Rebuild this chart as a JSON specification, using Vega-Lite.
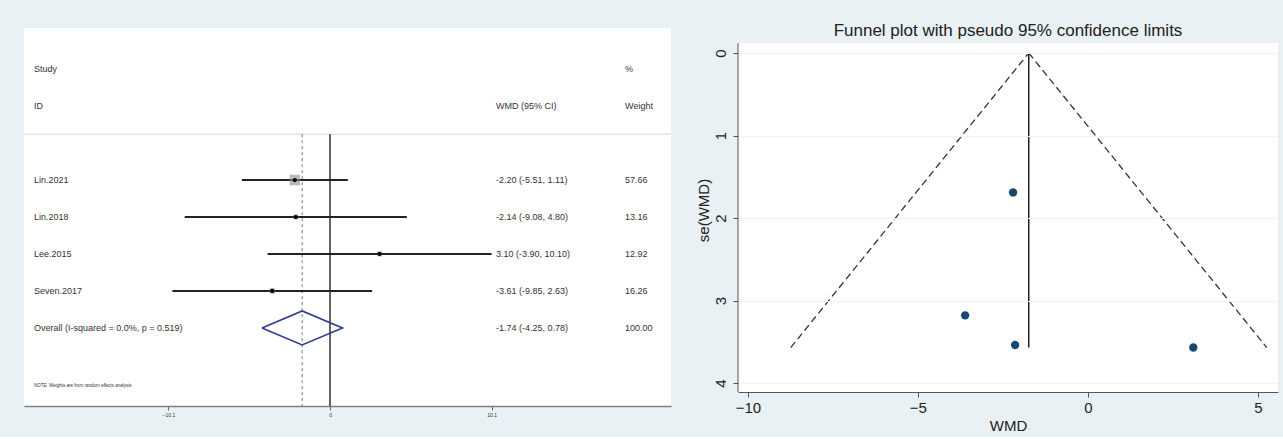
{
  "$schema": "https://vega.github.io/schema/vega-lite/v6.json",
  "background": "#e9f1f4",
  "padding": {"left": 23, "top": 22, "right": 6, "bottom": 4},
  "spacing": 67,
  "bounds": "flush",
  "config": {"font": "Liberation Sans", "view": {"stroke": null}},
  "datasets": {
    "studies": [
      {"study": "Lin.2021", "row": 1, "wmd": -2.20, "lo": -5.51, "hi": 1.11, "weight": 57.66, "se": 1.69},
      {"study": "Lin.2018", "row": 2, "wmd": -2.14, "lo": -9.08, "hi": 4.80, "weight": 13.16, "se": 3.54},
      {"study": "Lee.2015", "row": 3, "wmd": 3.10, "lo": -3.90, "hi": 10.10, "weight": 12.92, "se": 3.57},
      {"study": "Seven.2017", "row": 4, "wmd": -3.61, "lo": -9.85, "hi": 2.63, "weight": 16.26, "se": 3.18}
    ],
    "labels": [
      {"row": -2, "c1": "Study", "c2": "", "c3": "%"},
      {"row": -1, "c1": "ID", "c2": "WMD (95% CI)", "c3": "Weight"},
      {"row": 1, "c1": "Lin.2021", "c2": "-2.20 (-5.51, 1.11)", "c3": "57.66"},
      {"row": 2, "c1": "Lin.2018", "c2": "-2.14 (-9.08, 4.80)", "c3": "13.16"},
      {"row": 3, "c1": "Lee.2015", "c2": "3.10 (-3.90, 10.10)", "c3": "12.92"},
      {"row": 4, "c1": "Seven.2017", "c2": "-3.61 (-9.85, 2.63)", "c3": "16.26"},
      {"row": 5, "c1": "Overall  (I-squared = 0.0%, p = 0.519)", "c2": "-1.74 (-4.25, 0.78)", "c3": "100.00"}
    ],
    "note": [{"row": 6.57, "text": "NOTE: Weights are from random effects analysis"}],
    "diamond": [
      {"ord": 1, "wmd": -4.25, "row": 5},
      {"ord": 2, "wmd": -1.74, "row": 4.54},
      {"ord": 3, "wmd": 0.78, "row": 5},
      {"ord": 4, "wmd": -1.74, "row": 5.46},
      {"ord": 5, "wmd": -4.25, "row": 5}
    ],
    "pooled": [{"effect": -1.74, "se0": 0, "se1": 3.571}],
    "funnel": [
      {"side": "L", "x": -8.74, "se": 3.571},
      {"side": "L", "x": -1.74, "se": 0},
      {"side": "R", "x": -1.74, "se": 0},
      {"side": "R", "x": 5.26, "se": 3.571}
    ]
  },
  "hconcat": [
    {
      "width": 647,
      "height": 378,
      "view": {"fill": "white", "stroke": null},
      "layer": [
        {
          "data": {"name": "pooled"},
          "mark": {"type": "rule", "color": "#cfd4d8", "strokeWidth": 1},
          "encoding": {
            "y": {"datum": -0.24, "type": "quantitative", "scale": {"domain": [-3.11, 7.11], "nice": false, "zero": false, "reverse": true}, "axis": null}
          }
        },
        {
          "data": {"name": "pooled"},
          "mark": {"type": "rule", "color": "#777777", "strokeWidth": 1, "strokeDash": [3, 3]},
          "encoding": {
            "x": {"field": "effect", "type": "quantitative", "scale": {"domain": [-19.125, 21.31], "nice": false, "zero": false}, "axis": {"values": [-10.1, 0, 10.1], "labelExpr": "datum.value == 0 ? '0' : format(datum.value, '.1f')", "title": null, "grid": false, "labelFontSize": 5, "labelColor": "#333333", "tickSize": 4, "tickColor": "#666666", "domainColor": "#808080", "domainWidth": 1.5, "labelPadding": 2}},
            "y": {"datum": -0.24, "type": "quantitative", "scale": {"domain": [-3.11, 7.11], "nice": false, "zero": false, "reverse": true}, "axis": null},
            "y2": {"datum": 7.11}
          }
        },
        {
          "data": {"name": "pooled"},
          "mark": {"type": "rule", "color": "#111111", "strokeWidth": 1.3},
          "encoding": {
            "x": {"datum": 0, "type": "quantitative", "scale": {"domain": [-19.125, 21.31], "nice": false, "zero": false}, "axis": {"values": [-10.1, 0, 10.1], "labelExpr": "datum.value == 0 ? '0' : format(datum.value, '.1f')", "title": null, "grid": false, "labelFontSize": 5, "labelColor": "#333333", "tickSize": 4, "tickColor": "#666666", "domainColor": "#808080", "domainWidth": 1.5, "labelPadding": 2}},
            "y": {"datum": -0.24, "type": "quantitative", "scale": {"domain": [-3.11, 7.11], "nice": false, "zero": false, "reverse": true}, "axis": null},
            "y2": {"datum": 7.11}
          }
        },
        {
          "data": {"name": "studies"},
          "mark": {"type": "rule", "color": "#222222", "strokeWidth": 1.9},
          "encoding": {
            "x": {"field": "lo", "type": "quantitative", "scale": {"domain": [-19.125, 21.31], "nice": false, "zero": false}, "axis": {"values": [-10.1, 0, 10.1], "labelExpr": "datum.value == 0 ? '0' : format(datum.value, '.1f')", "title": null, "grid": false, "labelFontSize": 5, "labelColor": "#333333", "tickSize": 4, "tickColor": "#666666", "domainColor": "#808080", "domainWidth": 1.5, "labelPadding": 2}},
            "x2": {"field": "hi"},
            "y": {"field": "row", "type": "quantitative", "scale": {"domain": [-3.11, 7.11], "nice": false, "zero": false, "reverse": true}, "axis": null}
          }
        },
        {
          "data": {"name": "studies"},
          "mark": {"type": "point", "shape": "square", "filled": true, "color": "#8c8c8c", "opacity": 0.6},
          "encoding": {
            "x": {"field": "wmd", "type": "quantitative", "scale": {"domain": [-19.125, 21.31], "nice": false, "zero": false}, "axis": {"values": [-10.1, 0, 10.1], "labelExpr": "datum.value == 0 ? '0' : format(datum.value, '.1f')", "title": null, "grid": false, "labelFontSize": 5, "labelColor": "#333333", "tickSize": 4, "tickColor": "#666666", "domainColor": "#808080", "domainWidth": 1.5, "labelPadding": 2}},
            "y": {"field": "row", "type": "quantitative", "scale": {"domain": [-3.11, 7.11], "nice": false, "zero": false, "reverse": true}, "axis": null},
            "size": {"field": "weight", "type": "quantitative", "scale": {"domain": [0, 60], "range": [0, 115]}, "legend": null}
          }
        },
        {
          "data": {"name": "studies"},
          "mark": {"type": "point", "shape": "circle", "filled": true, "color": "#000000", "size": 18, "opacity": 1},
          "encoding": {
            "x": {"field": "wmd", "type": "quantitative", "scale": {"domain": [-19.125, 21.31], "nice": false, "zero": false}, "axis": {"values": [-10.1, 0, 10.1], "labelExpr": "datum.value == 0 ? '0' : format(datum.value, '.1f')", "title": null, "grid": false, "labelFontSize": 5, "labelColor": "#333333", "tickSize": 4, "tickColor": "#666666", "domainColor": "#808080", "domainWidth": 1.5, "labelPadding": 2}},
            "y": {"field": "row", "type": "quantitative", "scale": {"domain": [-3.11, 7.11], "nice": false, "zero": false, "reverse": true}, "axis": null}
          }
        },
        {
          "data": {"name": "diamond"},
          "mark": {"type": "line", "color": "#2f3c8f", "strokeWidth": 1.6},
          "encoding": {
            "x": {"field": "wmd", "type": "quantitative", "scale": {"domain": [-19.125, 21.31], "nice": false, "zero": false}, "axis": {"values": [-10.1, 0, 10.1], "labelExpr": "datum.value == 0 ? '0' : format(datum.value, '.1f')", "title": null, "grid": false, "labelFontSize": 5, "labelColor": "#333333", "tickSize": 4, "tickColor": "#666666", "domainColor": "#808080", "domainWidth": 1.5, "labelPadding": 2}},
            "y": {"field": "row", "type": "quantitative", "scale": {"domain": [-3.11, 7.11], "nice": false, "zero": false, "reverse": true}, "axis": null},
            "order": {"field": "ord", "type": "quantitative"}
          }
        },
        {
          "data": {"name": "labels"},
          "mark": {"type": "text", "align": "left", "baseline": "middle", "fontSize": 9, "color": "#333333"},
          "encoding": {
            "x": {"datum": -18.5, "type": "quantitative", "scale": {"domain": [-19.125, 21.31], "nice": false, "zero": false}, "axis": {"values": [-10.1, 0, 10.1], "labelExpr": "datum.value == 0 ? '0' : format(datum.value, '.1f')", "title": null, "grid": false, "labelFontSize": 5, "labelColor": "#333333", "tickSize": 4, "tickColor": "#666666", "domainColor": "#808080", "domainWidth": 1.5, "labelPadding": 2}},
            "y": {"field": "row", "type": "quantitative", "scale": {"domain": [-3.11, 7.11], "nice": false, "zero": false, "reverse": true}, "axis": null},
            "text": {"field": "c1"}
          }
        },
        {
          "data": {"name": "labels"},
          "mark": {"type": "text", "align": "left", "baseline": "middle", "fontSize": 9, "color": "#333333"},
          "encoding": {
            "x": {"datum": 10.375, "type": "quantitative", "scale": {"domain": [-19.125, 21.31], "nice": false, "zero": false}, "axis": {"values": [-10.1, 0, 10.1], "labelExpr": "datum.value == 0 ? '0' : format(datum.value, '.1f')", "title": null, "grid": false, "labelFontSize": 5, "labelColor": "#333333", "tickSize": 4, "tickColor": "#666666", "domainColor": "#808080", "domainWidth": 1.5, "labelPadding": 2}},
            "y": {"field": "row", "type": "quantitative", "scale": {"domain": [-3.11, 7.11], "nice": false, "zero": false, "reverse": true}, "axis": null},
            "text": {"field": "c2"}
          }
        },
        {
          "data": {"name": "labels"},
          "mark": {"type": "text", "align": "left", "baseline": "middle", "fontSize": 9, "color": "#333333"},
          "encoding": {
            "x": {"datum": 18.44, "type": "quantitative", "scale": {"domain": [-19.125, 21.31], "nice": false, "zero": false}, "axis": {"values": [-10.1, 0, 10.1], "labelExpr": "datum.value == 0 ? '0' : format(datum.value, '.1f')", "title": null, "grid": false, "labelFontSize": 5, "labelColor": "#333333", "tickSize": 4, "tickColor": "#666666", "domainColor": "#808080", "domainWidth": 1.5, "labelPadding": 2}},
            "y": {"field": "row", "type": "quantitative", "scale": {"domain": [-3.11, 7.11], "nice": false, "zero": false, "reverse": true}, "axis": null},
            "text": {"field": "c3"}
          }
        },
        {
          "data": {"name": "note"},
          "mark": {"type": "text", "align": "left", "baseline": "middle", "fontSize": 4.5, "color": "#333333"},
          "encoding": {
            "x": {"datum": -18.5, "type": "quantitative", "scale": {"domain": [-19.125, 21.31], "nice": false, "zero": false}, "axis": {"values": [-10.1, 0, 10.1], "labelExpr": "datum.value == 0 ? '0' : format(datum.value, '.1f')", "title": null, "grid": false, "labelFontSize": 5, "labelColor": "#333333", "tickSize": 4, "tickColor": "#666666", "domainColor": "#808080", "domainWidth": 1.5, "labelPadding": 2}},
            "y": {"field": "row", "type": "quantitative", "scale": {"domain": [-3.11, 7.11], "nice": false, "zero": false, "reverse": true}, "axis": null},
            "text": {"field": "text"}
          }
        }
      ]
    },
    {
      "width": 540,
      "height": 364,
      "title": {"text": "Funnel plot with pseudo 95% confidence limits", "fontSize": 17, "fontWeight": "normal", "color": "#222222", "offset": -2, "baseline": "middle", "anchor": "middle", "dy": 18},
      "view": {"fill": null, "stroke": null},
      "layer": [
        {
          "data": {"name": "pooled"},
          "mark": {"type": "rect", "color": "white"},
          "encoding": {
            "x": {"datum": -10.29, "type": "quantitative", "scale": {"domain": [-10.29, 5.59], "nice": false, "zero": false}, "axis": {"values": [-10, -5, 0, 5], "title": "WMD", "titleFontSize": 15, "titleFontWeight": "normal", "titleColor": "#222222", "labelFontSize": 15, "labelColor": "#222222", "tickSize": 5, "tickColor": "#555555", "domainColor": "#555555", "grid": false, "labelPadding": 3, "titlePadding": 3}},
            "x2": {"datum": 5.59},
            "y": {"datum": -0.12, "type": "quantitative", "scale": {"domain": [-0.303, 4.109], "nice": false, "zero": false, "reverse": true}, "axis": {"values": [0, 1, 2, 3, 4], "title": "se(WMD)", "titleFontSize": 15, "titleFontWeight": "normal", "titleColor": "#222222", "labelFontSize": 15, "labelColor": "#222222", "labelAngle": -90, "labelAlign": "center", "labelBaseline": "bottom", "tickSize": 5, "tickColor": "#555555", "domain": false, "grid": true, "gridColor": "#eef2f5", "labelPadding": 5, "titlePadding": 2, "zindex": 1}},
            "y2": {"datum": 4.109}
          }
        },
        {
          "data": {"name": "pooled"},
          "mark": {"type": "rule", "color": "#555555", "strokeWidth": 1},
          "encoding": {
            "x": {"datum": -10.29, "type": "quantitative", "scale": {"domain": [-10.29, 5.59], "nice": false, "zero": false}, "axis": {"values": [-10, -5, 0, 5], "title": "WMD", "titleFontSize": 15, "titleFontWeight": "normal", "titleColor": "#222222", "labelFontSize": 15, "labelColor": "#222222", "tickSize": 5, "tickColor": "#555555", "domainColor": "#555555", "grid": false, "labelPadding": 3, "titlePadding": 3}},
            "y": {"datum": -0.12, "type": "quantitative", "scale": {"domain": [-0.303, 4.109], "nice": false, "zero": false, "reverse": true}, "axis": {"values": [0, 1, 2, 3, 4], "title": "se(WMD)", "titleFontSize": 15, "titleFontWeight": "normal", "titleColor": "#222222", "labelFontSize": 15, "labelColor": "#222222", "labelAngle": -90, "labelAlign": "center", "labelBaseline": "bottom", "tickSize": 5, "tickColor": "#555555", "domain": false, "grid": true, "gridColor": "#eef2f5", "labelPadding": 5, "titlePadding": 2, "zindex": 1}},
            "y2": {"datum": 4.109}
          }
        },
        {
          "data": {"name": "funnel"},
          "mark": {"type": "line", "color": "#333333", "strokeWidth": 1.3, "strokeDash": [7, 4]},
          "encoding": {
            "x": {"field": "x", "type": "quantitative", "scale": {"domain": [-10.29, 5.59], "nice": false, "zero": false}, "axis": {"values": [-10, -5, 0, 5], "title": "WMD", "titleFontSize": 15, "titleFontWeight": "normal", "titleColor": "#222222", "labelFontSize": 15, "labelColor": "#222222", "tickSize": 5, "tickColor": "#555555", "domainColor": "#555555", "grid": false, "labelPadding": 3, "titlePadding": 3}},
            "y": {"field": "se", "type": "quantitative", "scale": {"domain": [-0.303, 4.109], "nice": false, "zero": false, "reverse": true}, "axis": {"values": [0, 1, 2, 3, 4], "title": "se(WMD)", "titleFontSize": 15, "titleFontWeight": "normal", "titleColor": "#222222", "labelFontSize": 15, "labelColor": "#222222", "labelAngle": -90, "labelAlign": "center", "labelBaseline": "bottom", "tickSize": 5, "tickColor": "#555555", "domain": false, "grid": true, "gridColor": "#eef2f5", "labelPadding": 5, "titlePadding": 2, "zindex": 1}},
            "detail": {"field": "side", "type": "nominal"}
          }
        },
        {
          "data": {"name": "pooled"},
          "mark": {"type": "rule", "color": "#222222", "strokeWidth": 1.5},
          "encoding": {
            "x": {"field": "effect", "type": "quantitative", "scale": {"domain": [-10.29, 5.59], "nice": false, "zero": false}, "axis": {"values": [-10, -5, 0, 5], "title": "WMD", "titleFontSize": 15, "titleFontWeight": "normal", "titleColor": "#222222", "labelFontSize": 15, "labelColor": "#222222", "tickSize": 5, "tickColor": "#555555", "domainColor": "#555555", "grid": false, "labelPadding": 3, "titlePadding": 3}},
            "y": {"field": "se0", "type": "quantitative", "scale": {"domain": [-0.303, 4.109], "nice": false, "zero": false, "reverse": true}, "axis": {"values": [0, 1, 2, 3, 4], "title": "se(WMD)", "titleFontSize": 15, "titleFontWeight": "normal", "titleColor": "#222222", "labelFontSize": 15, "labelColor": "#222222", "labelAngle": -90, "labelAlign": "center", "labelBaseline": "bottom", "tickSize": 5, "tickColor": "#555555", "domain": false, "grid": true, "gridColor": "#eef2f5", "labelPadding": 5, "titlePadding": 2, "zindex": 1}},
            "y2": {"field": "se1"}
          }
        },
        {
          "data": {"name": "studies"},
          "mark": {"type": "point", "shape": "circle", "filled": true, "color": "#1a476f", "size": 70, "opacity": 1},
          "encoding": {
            "x": {"field": "wmd", "type": "quantitative", "scale": {"domain": [-10.29, 5.59], "nice": false, "zero": false}, "axis": {"values": [-10, -5, 0, 5], "title": "WMD", "titleFontSize": 15, "titleFontWeight": "normal", "titleColor": "#222222", "labelFontSize": 15, "labelColor": "#222222", "tickSize": 5, "tickColor": "#555555", "domainColor": "#555555", "grid": false, "labelPadding": 3, "titlePadding": 3}},
            "y": {"field": "se", "type": "quantitative", "scale": {"domain": [-0.303, 4.109], "nice": false, "zero": false, "reverse": true}, "axis": {"values": [0, 1, 2, 3, 4], "title": "se(WMD)", "titleFontSize": 15, "titleFontWeight": "normal", "titleColor": "#222222", "labelFontSize": 15, "labelColor": "#222222", "labelAngle": -90, "labelAlign": "center", "labelBaseline": "bottom", "tickSize": 5, "tickColor": "#555555", "domain": false, "grid": true, "gridColor": "#eef2f5", "labelPadding": 5, "titlePadding": 2, "zindex": 1}}
          }
        }
      ]
    }
  ]
}
